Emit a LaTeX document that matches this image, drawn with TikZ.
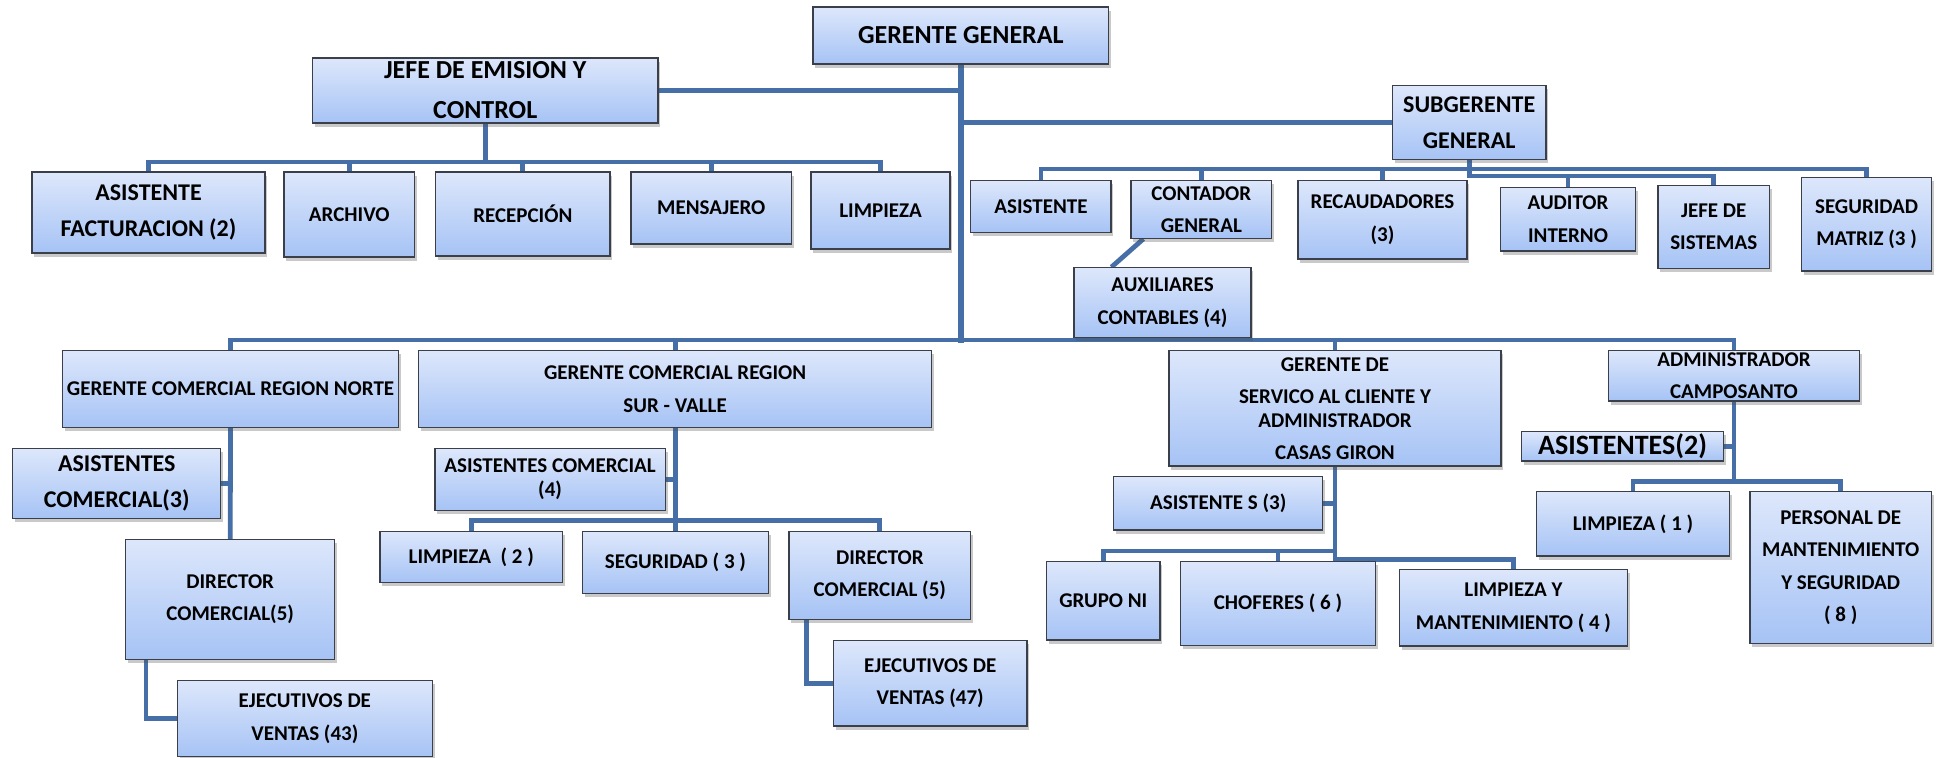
\documentclass[tikz,border=0pt]{standalone}
\usepackage{fontspec}
\setmainfont{Carlito}
\usetikzlibrary{shadows,calc}
\pgfdeclarelayer{bg}
\pgfsetlayers{bg,main}
\definecolor{conn}{HTML}{456FA6}
\definecolor{btop}{HTML}{DDE7FB}
\definecolor{bbot}{HTML}{A6C3F5}
\definecolor{bline}{HTML}{3A3F4A}
\tikzset{
  obox/.style={draw=bline, line width=0.6pt, top color=btop, bottom color=bbot,
    inner sep=0pt, align=center, font=\fontsize{10.5}{16.25}\selectfont\bfseries,
    drop shadow={shadow xshift=1.2pt, shadow yshift=-1.8pt, opacity=0.3, fill=black!70}},
  f12/.style={font=\fontsize{12}{17.75}\selectfont\bfseries},
  f13/.style={font=\fontsize{13}{20}\selectfont\bfseries},
  f14/.style={font=\fontsize{14}{18}\selectfont\bfseries},
  tight/.style={font=\fontsize{10.5}{12}\selectfont\bfseries},
  cline/.style={draw=conn, line width=2.4pt, line cap=rect},
  mline/.style={draw=conn, line width=3pt, line cap=rect}
}
\newcommand\orgbox[7][]{\node[obox,#1,minimum width={(#5-#3)*0.5pt},minimum height={(#6-#4)*0.5pt}] (#2) at ({(#3+#5)/2},{(#4+#6)/2}) {#7};}
\begin{document}
\begin{tikzpicture}[x=0.5pt,y=-0.5pt]
\useasboundingbox (0,0) rectangle (1937,758);
% top level
\orgbox[f13]{gg}{813}{7}{1108.6}{64}{GERENTE GENERAL}
\orgbox[f13]{jefe}{312.5}{58}{658}{123}{JEFE DE EMISION Y\\CONTROL}
\orgbox[f12]{asfac}{32}{172}{265}{253}{ASISTENTE\\FACTURACION (2)}
\orgbox{arch}{284}{172}{414.5}{257}{ARCHIVO}
\orgbox{recep}{435.6}{172}{610}{256}{RECEPCIÓN}
\orgbox{mens}{631}{172}{791.5}{244}{MENSAJERO}
\orgbox{limp}{811}{172}{950}{249}{LIMPIEZA}
\orgbox[f12]{sub}{1392.4}{85.7}{1546}{159.3}{SUBGERENTE\\GENERAL}
\orgbox{asis}{970.8}{180.7}{1111}{232.3}{ASISTENTE}
\orgbox{cont}{1131}{180.7}{1271.6}{238.3}{CONTADOR\\GENERAL}
\orgbox{recau}{1298}{180.7}{1467}{259}{RECAUDADORES\\(3)}
\orgbox{aud}{1500.7}{187.7}{1635.3}{251}{AUDITOR\\INTERNO}
\orgbox{jsis}{1658}{185.7}{1769.4}{268.3}{JEFE DE\\SISTEMAS}
\orgbox{segm}{1801.5}{177.7}{1931.7}{271}{SEGURIDAD\\MATRIZ (3 )}
\orgbox{aux}{1074}{267.7}{1251}{337.3}{AUXILIARES\\CONTABLES (4)}
% second level
\orgbox{norte}{62.5}{350.7}{398.6}{427.3}{GERENTE COMERCIAL REGION NORTE}
\orgbox{sur}{418.4}{350.7}{931.8}{427.3}{GERENTE COMERCIAL REGION\\SUR - VALLE}
\orgbox[f12]{asc3}{12.8}{448.3}{220.7}{518.3}{ASISTENTES\\COMERCIAL(3)}
\orgbox{dir5}{125.6}{539.3}{334.8}{659.3}{DIRECTOR\\COMERCIAL(5)}
\orgbox{ej43}{177.3}{680.7}{432.4}{756.7}{EJECUTIVOS DE\\VENTAS (43)}
\orgbox[tight]{asc4}{435}{448.3}{665.2}{510.7}{ASISTENTES COMERCIAL\\(4)}
\orgbox{limp2}{380}{531.3}{562.5}{582.3}{LIMPIEZA\ \ ( 2 )}
\orgbox{seg3}{582.3}{531.3}{768.5}{593.3}{SEGURIDAD ( 3 )}
\orgbox{dirb}{789}{531.3}{970.7}{619.3}{DIRECTOR\\COMERCIAL (5)}
\orgbox{ej47}{833.5}{640.7}{1026.9}{726}{EJECUTIVOS DE\\VENTAS (47)}
\orgbox[tight]{gsc}{1169}{350.7}{1501}{466}{GERENTE DE\\[4pt]SERVICO AL CLIENTE Y\\ADMINISTRADOR\\[4pt]CASAS GIRON}
\orgbox{adm}{1608.5}{350.7}{1859.5}{401}{ADMINISTRADOR\\CAMPOSANTO}
\orgbox[f14]{as2}{1521.8}{431.7}{1723.3}{461}{ASISTENTES(2)}
\orgbox{ass3}{1113.6}{476.7}{1322.8}{530}{ASISTENTE S (3)}
\orgbox{gni}{1046.6}{561.7}{1160}{640}{GRUPO NI}
\orgbox{chof}{1180.5}{561.7}{1375.4}{645.7}{CHOFERES ( 6 )}
\orgbox{lym}{1399.3}{569.3}{1627.6}{646}{LIMPIEZA Y\\MANTENIMIENTO ( 4 )}
\orgbox{limp1}{1536.8}{491.7}{1729.2}{556}{LIMPIEZA ( 1 )}
\orgbox{pers}{1750}{491.7}{1931.3}{643.3}{PERSONAL DE\\MANTENIMIENTO\\Y SEGURIDAD\\( 8 )}
% bus levels
\coordinate (jb) at (0,162);
\coordinate (sb1) at (0,169);
\coordinate (sb2) at (0,176);
\coordinate (bb) at (0,340);
\coordinate (b2) at (0,520.7);
\coordinate (b3a) at (0,551);
\coordinate (b3b) at (0,559.3);
\coordinate (b4) at (0,481.7);
\begin{pgfonlayer}{bg}
\draw[mline] (gg.south) -- (gg.south |- bb);
\draw[cline] (jefe.east) -- (jefe.east -| gg.south);
\draw[cline] (sub.west) -- (sub.west -| gg.south);
% jefe group
\draw[cline] (jefe.south) -- (jefe.south |- jb);
\draw[cline] (asfac.north |- jb) -- (limp.north |- jb);
\foreach \n in {asfac,arch,recep,mens,limp} \draw[cline] (\n.north) -- (\n.north |- jb);
% subgerente group
\draw[cline] (sub.south) -- (sub.south |- sb2);
\draw[cline] (asis.north |- sb1) -- (segm.north |- sb1);
\foreach \n in {asis,cont,recau,segm} \draw[cline] (\n.north) -- (\n.north |- sb1);
\draw[cline] (sub.south |- sb2) -- (jsis.north |- sb2);
\foreach \n in {aud,jsis} \draw[cline] (\n.north) -- (\n.north |- sb2);
\draw[draw=conn, line width=2.4pt] ($(cont.south west)+(13,0)$) -- ($(aux.north west)+(38,0)$);
% bottom bus
\draw[cline] (norte.north |- bb) -- (adm.north |- bb);
\foreach \n in {norte,sur,gsc,adm} \draw[cline] (\n.north) -- (\n.north |- bb);
% norte
\draw[cline] (norte.south) -- (dir5.north);
\draw[cline] (asc3.east) -- (asc3.east -| norte.south);
\draw[cline] ($(dir5.south west)+(21,0)$) |- (ej43.west);
% sur
\draw[cline] (sur.south) -- (sur.south |- b2);
\draw[cline] (asc4.east) -- (asc4.east -| sur.south);
\draw[cline] (limp2.north |- b2) -- (dirb.north |- b2);
\foreach \n in {limp2,seg3,dirb} \draw[cline] (\n.north) -- (\n.north |- b2);
\draw[cline] ($(dirb.south west)+(18,0)$) |- (ej47.west);
% servicio
\draw[cline] (gsc.south) -- (gsc.south |- b3b);
\draw[cline] (ass3.east) -- (ass3.east -| gsc.south);
\draw[cline] (gni.north |- b3a) -- (gsc.south |- b3a);
\foreach \n in {gni,chof} \draw[cline] (\n.north) -- (\n.north |- b3a);
\draw[cline] (gsc.south |- b3b) -- (lym.north |- b3b);
\draw[cline] (lym.north) -- (lym.north |- b3b);
% camposanto
\draw[cline] (adm.south) -- (adm.south |- b4);
\draw[cline] (as2.east) -- (as2.east -| adm.south);
\draw[cline] (limp1.north |- b4) -- (pers.north |- b4);
\foreach \n in {limp1,pers} \draw[cline] (\n.north) -- (\n.north |- b4);
\end{pgfonlayer}
\end{tikzpicture}
\end{document}
